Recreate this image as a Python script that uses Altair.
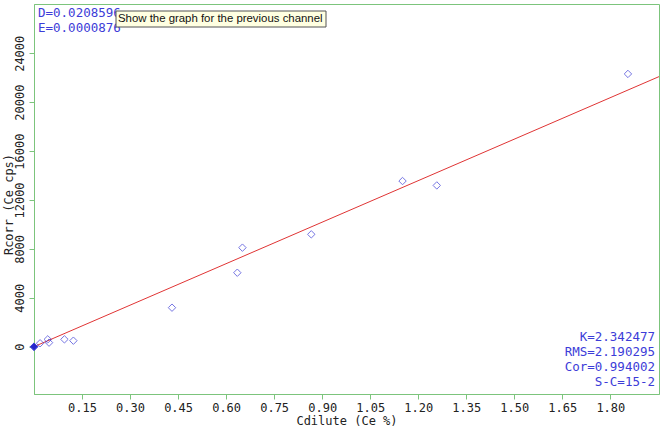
import altair as alt
import pandas as pd

# Calibration standards (Cdilute Ce %, Rcorr Ce cps)
conc = [0.0, 0.0, 0.0, 0.019, 0.043, 0.047, 0.095, 0.123,
        0.431, 0.635, 0.651, 0.866, 1.151, 1.258, 1.855]
rcorr = [0, 0, 0, 280, 600, 330, 600, 490,
         3190, 6050, 8100, 9190, 13550, 13190, 22310]
origin = [True, True, True, False, False, False, False, False,
          False, False, False, False, False, False, False]

# Fitted calibration line end points
fit_x = [0.0, 1.952]
fit_y = [0, 22090]

x_ticks = [0.15, 0.30, 0.45, 0.60, 0.75, 0.90, 1.05, 1.20, 1.35, 1.50, 1.65, 1.80]
y_ticks = [0, 4000, 8000, 12000, 16000, 20000, 24000]
x_domain = [0.0, 1.952]
y_domain = [-3870, 28030]

top_left_text = ["D=0.0208596", "E=0.0000876"]
bottom_right_text = ["K=2.342477", "RMS=2.190295", "Cor=0.994002", "S-C=15-2"]
tooltip_text = "Show the graph for the previous channel"

GREEN = "#7cc47c"
BLUE = "#3c3cd8"
MONO = "DejaVu Sans Mono"

pts = pd.DataFrame({"x": conc, "y": rcorr, "origin": origin})
fit = pd.DataFrame({"x": fit_x, "y": fit_y})

xs = alt.Scale(domain=x_domain, nice=False, zero=False)
ys = alt.Scale(domain=y_domain, nice=False, zero=False)

x_axis = alt.Axis(values=x_ticks, format=".2f", title="Cdilute (Ce %)",
                  grid=False, domainColor=GREEN, tickColor=GREEN, tickSize=5,
                  labelFont=MONO, labelFontSize=12, labelColor="#222",
                  labelPadding=3, titleFont=MONO, titleFontSize=12,
                  titleFontWeight="normal", titleColor="#222", titlePadding=2)
y_axis = alt.Axis(values=y_ticks, format="d", title="Rcorr (Ce cps)",
                  grid=False, domainColor=GREEN, tickColor=GREEN, tickSize=5,
                  labelFont=MONO, labelFontSize=12, labelColor="#222",
                  labelAngle=-90, labelAlign="center", labelBaseline="bottom",
                  labelPadding=3, titleFont=MONO, titleFontSize=12,
                  titleFontWeight="normal", titleColor="#222",
                  titleX=-26, titleY=200, titleAngle=-90,
                  titleAlign="center", titleBaseline="middle")

line = alt.Chart(fit).mark_line(color="#e03434", strokeWidth=1).encode(
    x=alt.X("x:Q", scale=xs, axis=x_axis),
    y=alt.Y("y:Q", scale=ys, axis=y_axis),
)

points = alt.Chart(pts).mark_point(shape="diamond", size=55, strokeWidth=1).encode(
    x=alt.X("x:Q", scale=xs),
    y=alt.Y("y:Q", scale=ys),
    stroke=alt.value(BLUE),
    fill=alt.condition("datum.origin", alt.value("#2222cc"), alt.value("transparent")),
)

tl_text = alt.Chart(pd.DataFrame({"a": [0]})).mark_text(
    font=MONO, fontSize=12.5, color=BLUE, align="left", baseline="top",
    lineBreak="\n", lineHeight=15).encode(
    x=alt.value(4), y=alt.value(3), text=alt.value("\n".join(top_left_text)))

tip_box = alt.Chart(pd.DataFrame({"a": [0]})).mark_rect(
    fill="#ffffe1", stroke="#555555", strokeWidth=1).encode(
    x=alt.value(82), x2=alt.value(292), y=alt.value(7), y2=alt.value(23))
tip_text = alt.Chart(pd.DataFrame({"t": [tooltip_text]})).mark_text(
    font="Liberation Sans", fontSize=11.4, color="#111", align="left",
    baseline="middle").encode(x=alt.value(84), y=alt.value(15), text="t:N")

br_text = alt.Chart(pd.DataFrame({"a": [0]})).mark_text(
    font=MONO, fontSize=12.5, color=BLUE, align="right", baseline="top",
    lineBreak="\n", lineHeight=15).encode(
    x=alt.value(621), y=alt.value(327), text=alt.value("\n".join(bottom_right_text)))

chart = alt.layer(line, points, tl_text, tip_box, tip_text, br_text).properties(
    width=625, height=390,
    autosize=alt.AutoSizeParams(type="none"),
    padding={"left": 34, "top": 4, "right": 7, "bottom": 53},
    background="white",
).configure_view(stroke=GREEN, strokeWidth=1)

chart.save("out.html", embed_options={"renderer": "svg", "actions": False})
